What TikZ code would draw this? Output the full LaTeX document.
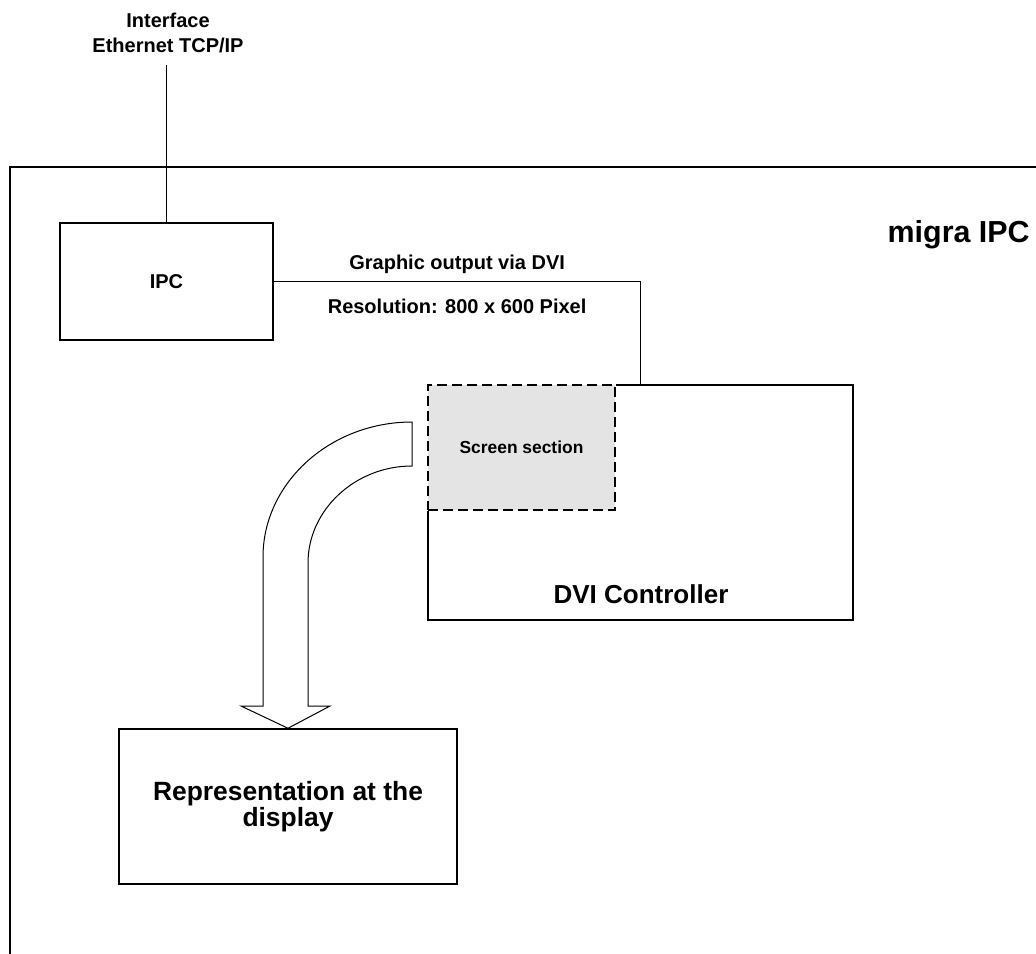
\documentclass[tikz,border=0pt]{standalone}
\usepackage{fontspec}
\setmainfont{Liberation Sans}

\definecolor{screengray}{RGB}{228,228,228}

\tikzset{
  box/.style={draw, line width=0.75pt, inner sep=0pt},
  txt/.style={font=\bfseries\fontsize{10}{12.5}\selectfont, align=center},
  bigtxt/.style={font=\bfseries\fontsize{13.2}{13}\selectfont, align=center},
  screenbox/.style={box, fill=screengray, dash pattern=on 5pt off 2.5pt,
    preaction={draw=white, solid, line width=1.4pt},
    font=\bfseries\fontsize{8.7}{10}\selectfont}
}

\begin{document}
\begin{tikzpicture}[x=0.5pt, y=-0.5pt]
  \useasboundingbox (0,0) rectangle (1036,953);

  % housing
  \draw[line width=1pt] (1040,167) -- (10,167) -- (10,957);
  \node[anchor=base east, inner sep=0pt, font=\bfseries\fontsize{15.2}{18}\selectfont] (migra) at (1030,242) {migra IPC};

  % interface and IPC
  \node[txt] (iface) at (168,33) {Interface\\Ethernet TCP/IP};
  \coordinate (ifaceend) at (166.5,65);
  \node[box, txt, minimum width=106.5pt, minimum height=58.5pt] (ipc) at (166.5,281.5) {IPC};
  \draw[line width=0.75pt] (ifaceend) -- (ipc.north);

  % DVI controller with screen section
  \node[box, minimum width=212.5pt, minimum height=117.5pt] (dvi) at (640.5,502.5) {};
  \node[txt, font=\bfseries\fontsize{13}{15}\selectfont, anchor=base] (dvilabel) at (641,603) {DVI Controller};
  \node[screenbox, anchor=north west, minimum width=93.5pt, minimum height=62.5pt] (screen) at (dvi.north west) {Screen section};

  \draw[line width=0.75pt] (ipc.east) -| (dvi.north)
    node[txt, pos=.25, anchor=base, yshift=6.25pt] (gfx) {Graphic output via DVI}
    node[txt, pos=.25, anchor=base, yshift=-15.75pt] (res) {Resolution: 800 x 600 Pixel};

  % display
  \node[box, bigtxt, minimum width=169pt, minimum height=77.5pt] (disp) at (288,806.5) {Representation at the\\display};

  % bent arrow from screen section to display
  \draw[line width=0.5pt] (412,422) -- (412,466)
    .. controls (355,466) and (308,510) .. (308,563) -- (308,706)
    -- (330,706) -- (disp.north) -- (241,706) -- (263,706) -- (263,557)
    .. controls (263,483) and (330,422) .. cycle;
\end{tikzpicture}
\end{document}
